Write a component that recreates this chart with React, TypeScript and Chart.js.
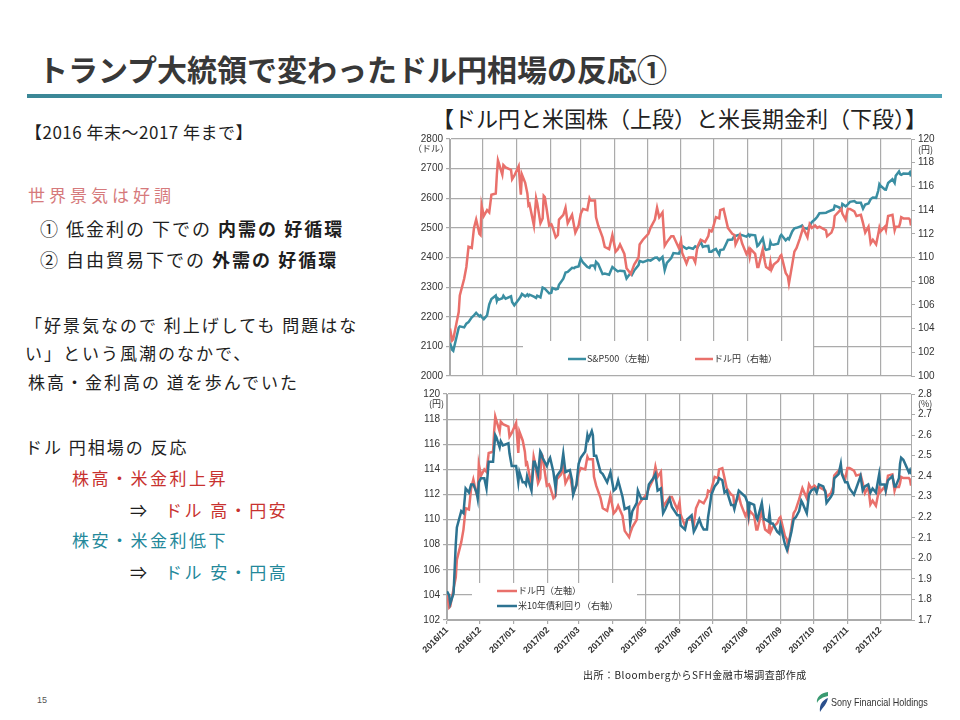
import React, { useEffect, useRef } from 'react';
import { Chart, registerables } from 'chart.js';

Chart.register(...registerables);

// ---- data: day offsets since 2016/11/01 ----
const days = [
  0, 2, 3, 6, 8, 9, 13, 15, 17, 20, 22, 24, 27, 28, 29,
  31, 34, 36, 38, 42, 43, 44, 45, 48, 49, 51, 56, 57, 59,
  63, 65, 66, 69, 71, 72, 73, 77, 79, 80, 83, 85, 86, 87, 91,
  93, 94, 97, 99, 100, 104, 106, 108, 112, 114, 115, 118,
  120, 122, 126, 128, 129, 132, 133, 134, 136, 140, 142, 146, 149,
  152, 154, 156, 160, 162, 166, 167, 169, 173, 174, 177,
  182, 184, 188, 190, 192, 195, 197, 199, 203, 205, 210,
  212, 213, 217, 219, 223, 225, 227, 230, 232, 234, 237, 238, 240, 241,
  244, 247, 248, 251, 253, 255, 259, 261, 262, 266, 268, 272,
  274, 275, 276, 280, 282, 283, 287, 289, 290, 293, 294, 295, 297, 301, 303,
  304, 308, 310, 311, 314, 316, 318, 321, 323, 324, 328, 330, 332,
  335, 337, 339, 343, 345, 346, 350, 352, 353, 357, 359, 360, 363,
  365, 367, 371, 373, 377, 379, 381, 384, 386, 388, 391, 393, 394,
  395, 399, 400, 402, 406, 408, 409, 412, 413, 414, 416, 421, 422, 423,
];

const usdJpy = [
  104.0, 103.0, 103.1, 104.5, 105.4, 106.8, 108.2, 109.2, 110.9, 110.8, 112.5, 113.2, 112.0, 111.9, 114.4,
  113.5, 114.0, 113.8, 115.3, 115.4, 117.0, 118.2, 117.9, 117.0, 117.8, 117.6, 117.4, 116.6, 116.9,
  117.7, 115.3, 117.0, 116.3, 115.4, 114.4, 114.5, 112.7, 115.0, 114.6, 112.9, 113.3, 115.2, 115.1, 112.7,
  112.8, 112.6, 111.7, 111.9, 113.2, 113.6, 114.2, 112.9, 113.6, 112.6, 112.1, 112.7,
  113.7, 114.1, 114.0, 115.0, 114.8, 114.8, 114.8, 113.4, 112.7, 111.7, 110.9, 110.7, 111.9,
  110.5, 110.7, 111.1, 110.3, 109.1, 108.6, 108.9, 109.4, 110.0, 111.1, 111.5,
  112.0, 112.5, 113.2, 114.2, 113.4, 113.8, 111.0, 111.3, 111.8, 111.8, 110.8,
  111.4, 110.4, 109.5, 110.0, 110.0, 109.6, 110.9, 111.5, 111.4, 111.3, 111.8, 112.3, 112.2, 112.4,
  113.4, 113.3, 114.0, 114.1, 113.3, 112.5, 112.0, 111.9, 111.1, 111.9, 111.2, 110.3,
  110.7, 110.1, 110.7, 110.3, 109.2, 109.2, 110.7, 109.6, 109.2, 109.0, 109.6, 109.0, 109.4, 109.7, 110.1,
  110.2, 108.7, 108.4, 107.8, 109.4, 110.5, 110.8, 111.6, 112.2, 112.5, 111.7, 112.8, 112.5,
  112.7, 112.5, 112.6, 112.4, 112.3, 111.8, 112.1, 112.6, 113.5, 113.9, 114.1, 113.7, 113.2,
  114.1, 114.1, 113.9, 113.5, 113.6, 112.9, 112.1, 112.6, 111.2, 111.5, 111.1, 112.0, 112.5,
  112.2, 112.6, 112.3, 113.5, 113.6, 112.3, 112.6, 112.6, 112.9, 113.4, 113.3, 113.3, 113.2, 112.7,
];

const sp500 = [
  2111.7, 2088.7, 2085.2, 2131.5, 2163.3, 2167.5, 2164.2, 2176.9, 2181.9, 2198.2, 2204.7, 2213.4, 2201.7, 2204.7, 2199.0,
  2191.9, 2204.7, 2241.4, 2259.5, 2271.7, 2253.3, 2262.0, 2258.1, 2262.5, 2270.8, 2261.0, 2268.9, 2249.9, 2238.8,
  2257.8, 2269.0, 2277.0, 2268.9, 2275.3, 2270.4, 2274.6, 2267.9, 2263.7, 2271.3, 2265.2, 2298.4, 2296.7, 2294.7, 2278.9,
  2280.9, 2297.4, 2292.6, 2294.7, 2307.9, 2328.3, 2349.3, 2351.2, 2365.4, 2363.8, 2367.3, 2369.8,
  2396.0, 2383.1, 2368.4, 2364.9, 2372.6, 2373.5, 2365.5, 2385.3, 2378.3, 2344.0, 2346.0, 2341.6, 2368.1,
  2358.8, 2353.0, 2355.5, 2353.8, 2329.0, 2349.0, 2342.2, 2355.8, 2374.2, 2388.6, 2384.2,
  2391.2, 2389.5, 2399.4, 2399.6, 2390.9, 2402.3, 2357.0, 2381.7, 2398.4, 2415.1, 2412.9,
  2430.1, 2439.1, 2429.3, 2433.8, 2429.4, 2437.9, 2433.2, 2453.5, 2435.6, 2438.3, 2439.1, 2419.4, 2419.7, 2423.4,
  2429.0, 2409.8, 2425.2, 2427.4, 2443.3, 2459.3, 2460.6, 2473.5, 2472.5, 2477.1, 2475.4, 2470.3,
  2477.6, 2472.2, 2476.8, 2474.9, 2438.2, 2441.3, 2464.6, 2430.0, 2425.6, 2428.4, 2452.5, 2444.0, 2443.1, 2446.3, 2471.7,
  2476.6, 2457.9, 2465.1, 2461.4, 2488.1, 2498.4, 2500.2, 2503.9, 2508.2, 2500.6, 2496.7, 2507.0, 2519.4,
  2529.1, 2537.7, 2549.3, 2550.6, 2550.9, 2553.2, 2559.4, 2562.1, 2575.2, 2569.1, 2560.4, 2581.1, 2572.8,
  2579.4, 2587.8, 2590.6, 2584.6, 2584.8, 2564.6, 2578.9, 2582.1, 2597.1, 2602.4, 2601.4, 2626.1, 2647.6,
  2642.2, 2629.6, 2629.3, 2651.5, 2664.1, 2652.0, 2675.8, 2690.2, 2681.5, 2679.3, 2683.3, 2682.6, 2687.5, 2673.6,
];

const ust10y = [
  1.84, 1.82, 1.78, 1.83, 2.07, 2.15, 2.23, 2.22, 2.34, 2.32, 2.36, 2.36, 2.32, 2.29, 2.37,
  2.39, 2.39, 2.34, 2.47, 2.47, 2.54, 2.60, 2.59, 2.54, 2.57, 2.55, 2.56, 2.51, 2.45,
  2.45, 2.37, 2.42, 2.37, 2.37, 2.36, 2.40, 2.33, 2.47, 2.47, 2.41, 2.52, 2.51, 2.49, 2.45,
  2.48, 2.49, 2.42, 2.34, 2.40, 2.43, 2.51, 2.42, 2.43, 2.38, 2.31, 2.36,
  2.46, 2.49, 2.52, 2.60, 2.58, 2.62, 2.60, 2.50, 2.50, 2.42, 2.41, 2.37, 2.42,
  2.33, 2.34, 2.38, 2.30, 2.24, 2.25, 2.17, 2.23, 2.27, 2.33, 2.29,
  2.29, 2.36, 2.39, 2.41, 2.33, 2.34, 2.22, 2.24, 2.29, 2.25, 2.21,
  2.21, 2.16, 2.14, 2.19, 2.21, 2.13, 2.15, 2.19, 2.16, 2.14, 2.14, 2.20, 2.27, 2.31,
  2.35, 2.37, 2.39, 2.38, 2.32, 2.33, 2.26, 2.26, 2.24, 2.33, 2.32, 2.30,
  2.27, 2.22, 2.27, 2.26, 2.20, 2.19, 2.27, 2.19, 2.19, 2.18, 2.22, 2.17, 2.17, 2.13, 2.12,
  2.16, 2.07, 2.04, 2.06, 2.13, 2.19, 2.20, 2.23, 2.28, 2.27, 2.22, 2.31, 2.33,
  2.34, 2.32, 2.36, 2.35, 2.32, 2.27, 2.30, 2.32, 2.39, 2.41, 2.46, 2.41, 2.37,
  2.37, 2.34, 2.31, 2.34, 2.40, 2.33, 2.35, 2.36, 2.32, 2.34, 2.32, 2.38, 2.41,
  2.36, 2.36, 2.33, 2.38, 2.40, 2.35, 2.35, 2.39, 2.46, 2.49, 2.48, 2.42, 2.43, 2.41,
];

const monthStartDays = [0, 30, 61, 92, 120, 151, 181, 212, 242, 273, 304, 334, 365, 395];
const monthLabels = [
  '2016/11', '2016/12', '2017/01', '2017/02', '2017/03', '2017/04', '2017/05',
  '2017/06', '2017/07', '2017/08', '2017/09', '2017/10', '2017/11', '2017/12',
];
const lastDay = 423;

const seriesNames = {
  sp: 'S&P500（左軸）',
  jpyTop: 'ドル円（右軸）',
  jpyBottom: 'ドル円（左軸）',
  ust: '米10年債利回り（右軸）',
};

// ---- styles ----
const GRID = '#ababab';
const TICK_COLOR = '#333333';
const RED = '#E9706B';
const TEAL_TOP = '#3A8EA2';
const TEAL_BOTTOM = '#2D7391';
const CJK = "'Noto Sans CJK JP', 'Noto Sans', sans-serif";
const tickFont = { family: "'Liberation Sans', Arial, sans-serif", size: 10 };

Chart.defaults.font.family = "'Liberation Sans', Arial, sans-serif";

function toPoints(values: number[]) {
  return days.map((d, i) => ({ x: d, y: values[i] }));
}

const monthTicks = (scale: any) => {
  scale.ticks = monthStartDays.map((v) => ({ value: v }));
};

const plainNumber = (v: any) => String(Math.round(Number(v)));

function makeOverlay(cfg: any) {
  return {
    id: 'overlay',
    beforeDatasetsDraw(chart: any) {
      const { ctx, chartArea: a } = chart;
      ctx.save();
      if (cfg.box) {
        const b = cfg.box;
        ctx.fillStyle = '#ffffff';
        ctx.fillRect(a.left + b.dx, a.bottom - b.h, b.w, b.h - 1);
      }
      ctx.font = `9px ${CJK}`;
      ctx.textBaseline = 'middle';
      (cfg.items || []).forEach((it: any) => {
        const x = a.left + it.dx;
        const y = a.bottom - it.dy;
        ctx.strokeStyle = it.color;
        ctx.lineWidth = 2.5;
        ctx.beginPath();
        ctx.moveTo(x, y);
        ctx.lineTo(x + it.len, y);
        ctx.stroke();
        ctx.fillStyle = '#333333';
        ctx.textAlign = 'left';
        ctx.fillText(it.text, x + it.len + 1, y);
      });
      (cfg.units || []).forEach((u: any) => {
        ctx.fillStyle = '#333333';
        ctx.textAlign = u.align;
        const x = u.side === 'left' ? a.left + u.dx : a.right + u.dx;
        ctx.fillText(u.text, x, a.top + u.dy);
      });
      ctx.restore();
    },
  };
}

function TopChart() {
  const ref = useRef<HTMLCanvasElement | null>(null);
  useEffect(() => {
    if (!ref.current) return;
    const chart = new Chart(ref.current, {
      type: 'line',
      data: {
        datasets: [
          {
            label: seriesNames.jpyTop,
            data: toPoints(usdJpy),
            yAxisID: 'yR',
            borderColor: RED,
            borderWidth: 2.5,
            pointRadius: 0,
            tension: 0,
            order: 0,
          },
          {
            label: seriesNames.sp,
            data: toPoints(sp500),
            yAxisID: 'yL',
            borderColor: TEAL_TOP,
            borderWidth: 2.5,
            pointRadius: 0,
            tension: 0,
            order: 1,
          },
        ],
      },
      options: {
        responsive: false,
        animation: false,
        events: [],
        layout: { padding: { top: 9, left: 0, right: 0, bottom: 0 } },
        plugins: { legend: { display: false }, tooltip: { enabled: false } },
        scales: {
          x: {
            type: 'linear',
            min: 0,
            max: lastDay,
            afterBuildTicks: monthTicks,
            ticks: { display: false },
            grid: { color: GRID, lineWidth: 1.2, drawTicks: false },
            border: { display: false },
            afterFit: (s: any) => { s.height = 9; },
          },
          yL: {
            type: 'linear',
            position: 'left',
            min: 2000,
            max: 2800,
            ticks: { stepSize: 100, font: tickFont, color: TICK_COLOR, padding: 3, callback: plainNumber },
            grid: { color: GRID, lineWidth: 1.2, tickLength: 4 },
            border: { color: GRID },
            afterFit: (s: any) => { s.width = 50; },
          },
          yR: {
            type: 'linear',
            position: 'right',
            min: 100,
            max: 120,
            ticks: { stepSize: 2, font: tickFont, color: TICK_COLOR, padding: 3, callback: plainNumber },
            grid: { drawOnChartArea: false, color: GRID, tickLength: 4 },
            border: { color: GRID },
            afterFit: (s: any) => { s.width = 34; },
          },
        },
      } as any,
      plugins: [
        makeOverlay({
          box: { dx: 73, w: 290, h: 35 },
          items: [
            { text: seriesNames.sp, color: TEAL_TOP, dx: 118, dy: 17, len: 18 },
            { text: seriesNames.jpyTop, color: RED, dx: 245, dy: 17, len: 18 },
          ],
          units: [
            { text: '（ドル）', side: 'left', dx: -1, dy: 10, align: 'right' },
            { text: '(円)', side: 'right', dx: 7, dy: 11, align: 'left' },
          ],
        }),
      ],
    } as any);
    return () => chart.destroy();
  }, []);
  return <canvas ref={ref} width={545} height={255} style={{ position: 'absolute', left: 400, top: 130 }} />;
}

function BottomChart() {
  const ref = useRef<HTMLCanvasElement | null>(null);
  useEffect(() => {
    if (!ref.current) return;
    const chart = new Chart(ref.current, {
      type: 'line',
      data: {
        datasets: [
          {
            label: seriesNames.ust,
            data: toPoints(ust10y),
            yAxisID: 'yR',
            borderColor: TEAL_BOTTOM,
            borderWidth: 2.5,
            pointRadius: 0,
            tension: 0,
            order: 0,
          },
          {
            label: seriesNames.jpyBottom,
            data: toPoints(usdJpy),
            yAxisID: 'yL',
            borderColor: RED,
            borderWidth: 2.5,
            pointRadius: 0,
            tension: 0,
            order: 1,
          },
        ],
      },
      options: {
        responsive: false,
        animation: false,
        events: [],
        layout: { padding: { top: 9, left: 0, right: 0, bottom: 0 } },
        plugins: { legend: { display: false }, tooltip: { enabled: false } },
        scales: {
          x: {
            type: 'linear',
            min: 0,
            max: lastDay,
            afterBuildTicks: monthTicks,
            ticks: {
              autoSkip: false,
              maxRotation: 45,
              minRotation: 45,
              padding: 1,
              font: { family: "'Liberation Sans', Arial, sans-serif", size: 9, weight: 'bold' },
              color: TICK_COLOR,
              callback: (v: any) => {
                const i = monthStartDays.indexOf(Number(v));
                return i >= 0 ? monthLabels[i] : '';
              },
            },
            grid: { color: GRID, lineWidth: 1.2, tickLength: 4 },
            border: { color: GRID },
            afterFit: (s: any) => { s.height = 55; },
          },
          yL: {
            type: 'linear',
            position: 'left',
            min: 102,
            max: 120,
            ticks: { stepSize: 2, font: tickFont, color: TICK_COLOR, padding: 3, callback: plainNumber },
            grid: { color: GRID, lineWidth: 1.2, tickLength: 4 },
            border: { color: GRID },
            afterFit: (s: any) => { s.width = 47; },
          },
          yR: {
            type: 'linear',
            position: 'right',
            min: 1.7,
            max: 2.8,
            ticks: {
              stepSize: 0.1,
              font: tickFont,
              color: TICK_COLOR,
              padding: 3,
              callback: (v: any) => Number(v).toFixed(1),
            },
            grid: { drawOnChartArea: false, color: GRID, tickLength: 4 },
            border: { color: GRID },
            afterFit: (s: any) => { s.width = 34; },
          },
        },
      } as any,
      plugins: [
        makeOverlay({
          box: { dx: 25, w: 165, h: 37 },
          items: [
            { text: seriesNames.jpyBottom, color: RED, dx: 50, dy: 29, len: 20 },
            { text: seriesNames.ust, color: TEAL_BOTTOM, dx: 50, dy: 14, len: 20 },
          ],
          units: [
            { text: '(円)', side: 'left', dx: -3, dy: 10, align: 'right' },
            { text: '(%)', side: 'right', dx: 7, dy: 10, align: 'left' },
          ],
        }),
      ],
    } as any);
    return () => chart.destroy();
  }, []);
  return <canvas ref={ref} width={545} height={290} style={{ position: 'absolute', left: 400, top: 385 }} />;
}

const PINK = '#D67A7C';
const TEXT_RED = '#C8322F';
const TEXT_TEAL = '#23889A';

function TextLine(props: { x: number; y: number; size?: number; ls?: number; color?: string; children: any }) {
  const size = props.size ?? 17;
  return (
    <div
      style={{
        position: 'absolute',
        left: props.x,
        top: props.y - 13,
        fontSize: size,
        lineHeight: '26px',
        letterSpacing: `${props.ls ?? 2}px`,
        whiteSpace: 'pre',
        color: props.color ?? '#1e1e1e',
        fontFamily: CJK,
      }}
    >
      {props.children}
    </div>
  );
}

export default function App() {
  return (
    <div
      style={{
        position: 'absolute',
        left: 0,
        top: 0,
        width: 960,
        height: 720,
        background: '#ffffff',
        overflow: 'hidden',
        fontFamily: CJK,
      }}
    >
      <div
        style={{
          position: 'absolute',
          left: 38,
          top: 51,
          fontSize: 30,
          lineHeight: '34px',
          fontWeight: 700,
          color: '#383838',
          whiteSpace: 'nowrap',
        }}
      >
        トランプ大統領で変わったドル円相場の反応①
      </div>
      <div
        style={{
          position: 'absolute',
          left: 27,
          top: 94,
          width: 915,
          height: 4,
          background: 'linear-gradient(to right, #3b8796, #4fa4b7)',
        }}
      />

      <div
        style={{
          position: 'absolute',
          left: 432,
          top: 103,
          fontSize: 22,
          lineHeight: '28px',
          color: '#222',
          whiteSpace: 'nowrap',
        }}
      >
        【ドル円と米国株（上段）と米長期金利（下段）】
      </div>

      <TextLine x={25} y={132} ls={0.5}>【2016 年末～2017 年まで】</TextLine>
      <TextLine x={28} y={195} ls={4} color={PINK}>世界景気は好調</TextLine>
      <TextLine x={40} y={228} size={18} ls={2}>
        ① 低金利の 下での <b style={{ fontWeight: 700 }}>内需の 好循環</b>
      </TextLine>
      <TextLine x={40} y={259} size={18} ls={2}>
        ② 自由貿易下での <b style={{ fontWeight: 700 }}>外需の 好循環</b>
      </TextLine>
      <TextLine x={25} y={325}>「好景気なので 利上げしても 問題はな</TextLine>
      <TextLine x={25} y={353}>い」という風潮のなかで、</TextLine>
      <TextLine x={28} y={382}>株高・金利高の 道を歩んでいた</TextLine>
      <TextLine x={25} y={447}>ドル 円相場の 反応</TextLine>
      <TextLine x={72} y={478} ls={2.5} color={TEXT_RED}>株高・米金利上昇</TextLine>
      <TextLine x={130} y={510}>⇒</TextLine>
      <TextLine x={165} y={510} ls={2.5} color={TEXT_RED}>ドル 高・円安</TextLine>
      <TextLine x={72} y={540} ls={2.5} color={TEXT_TEAL}>株安・米金利低下</TextLine>
      <TextLine x={130} y={572}>⇒</TextLine>
      <TextLine x={165} y={572} ls={2.5} color={TEXT_TEAL}>ドル 安・円高</TextLine>

      <TopChart />
      <BottomChart />

      <div
        style={{
          position: 'absolute',
          left: 583,
          top: 668,
          fontSize: 10,
          lineHeight: '14px',
          letterSpacing: '0.5px',
          color: '#222',
          whiteSpace: 'nowrap',
        }}
      >
        出所：BloombergからSFH金融市場調査部作成
      </div>

      <div
        style={{
          position: 'absolute',
          left: 37,
          top: 694,
          fontSize: 9,
          lineHeight: '12px',
          color: '#555',
          fontFamily: "'Liberation Sans', Arial, sans-serif",
        }}
      >
        15
      </div>

      <svg width="14" height="22" viewBox="0 0 14 22" style={{ position: 'absolute', left: 815, top: 691 }}>
        <path d="M13 1 C6 2 1 6 2 12 C4 8 8 6 13 5 Z" fill="#3a9a72" />
        <path d="M13 7 C8 9 4 13 5 21 C8 16 12 13 13 7 Z" fill="#2a4f8c" />
      </svg>
      <div
        style={{
          position: 'absolute',
          left: 831,
          top: 695,
          fontSize: 11,
          lineHeight: '14px',
          color: '#333',
          whiteSpace: 'nowrap',
          transform: 'scaleX(0.82)',
          transformOrigin: 'left center',
          fontFamily: "'Liberation Sans Narrow', 'Liberation Sans', Arial, sans-serif",
        }}
      >
        Sony Financial Holdings
      </div>
    </div>
  );
}
